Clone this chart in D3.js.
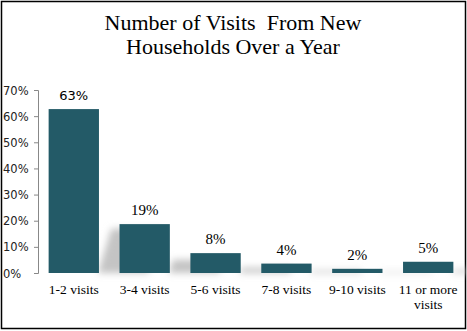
<!DOCTYPE html>
<html><head><meta charset="utf-8">
<script src="https://cdn.jsdelivr.net/npm/d3@7"></script>
<style>body{margin:0;background:#fff}svg{display:block}</style>
</head><body>
<script>
const categories = ["1-2 visits","3-4 visits","5-6 visits","7-8 visits","9-10 visits","11 or more visits"];
const values = [62.7, 18.7, 7.6, 3.6, 1.6, 4.3];
const labels = ["63%","19%","8%","4%","2%","5%"];
const yTicks = [0,10,20,30,40,50,60,70];
const title = ["Number of Visits  From New","Households Over a Year"];

const W=467,H=331;
const svg=d3.select("body").append("svg").attr("width",W).attr("height",H);
const defs=svg.append("defs");
defs.append("filter").attr("id","blur").attr("x","-50%").attr("y","-50%").attr("width","200%").attr("height","200%")
  .append("feGaussianBlur").attr("stdDeviation",3.5);

svg.append("rect").attr("x",1.5).attr("y",1.5).attr("width",464).attr("height",327)
  .attr("fill","#fff").attr("stroke","#000").attr("stroke-width",1.5);

svg.append("text").attr("text-anchor","middle").attr("font-family","Liberation Serif, DejaVu Serif, serif")
  .attr("font-size",22).attr("fill","#000").style("white-space","pre")
  .selectAll("tspan").data(title).join("tspan").attr("x",233).attr("y",(d,i)=>30+i*24).text(d=>d);

const x=d3.scaleBand().domain(categories).range([38,464]).paddingInner(0.29).paddingOuter(0.15);
const y=d3.scaleLinear().domain([0,70]).range([273,90]);

// perspective shadows
const sh=svg.append("g").attr("filter","url(#blur)");
sh.selectAll("path").data(values).join("path")
  .attr("d",(d,i)=>{
    const x0=x(categories[i])+x.bandwidth()-1, bw=x.bandwidth(), b=y(0), h=(b-y(d))*0.27, dx=h*0.3;
    return `M${x0},${b} L${x0+dx},${b-h} L${x0+dx+bw},${b-h} L${x0+bw},${b} Z`;
  }).attr("fill","#c4c4c4");

// axis
const ax=svg.append("g").attr("transform","translate(38,0)")
  .call(d3.axisLeft(y).tickValues(yTicks).tickSize(4).tickFormat(d=>d+"%"));
ax.select(".domain").attr("stroke","#888");
ax.selectAll(".tick line").attr("stroke","#888");
ax.selectAll(".tick text").attr("font-family","DejaVu Sans, Verdana, sans-serif").attr("font-size",11.5)
  .attr("fill","#222").attr("x",-35).attr("text-anchor","start").attr("dy","0.35em");

svg.append("g").selectAll("rect").data(values).join("rect")
  .attr("x",(d,i)=>x(categories[i])).attr("width",x.bandwidth())
  .attr("y",d=>y(d)).attr("height",d=>y(0)-y(d)).attr("fill","#235a67");

svg.append("g").selectAll("text").data(values).join("text")
  .attr("x",(d,i)=>x(categories[i])+x.bandwidth()/2).attr("y",d=>y(d)-9)
  .attr("text-anchor","middle")
  .attr("font-family",(d,i)=>i===0?"DejaVu Sans, Verdana, sans-serif":"Liberation Serif, DejaVu Serif, serif")
  .attr("font-size",(d,i)=>i===0?13:15).attr("fill","#000")
  .text((d,i)=>labels[i]);

const catLines = c => c==="11 or more visits" ? ["11 or more","visits"] : [c];
svg.append("g").selectAll("text").data(categories).join("text")
  .attr("text-anchor","middle").attr("font-family","Liberation Serif, DejaVu Serif, serif")
  .attr("font-size",13.5).attr("fill","#000")
  .each(function(c){
    d3.select(this).selectAll("tspan").data(catLines(c)).join("tspan")
      .attr("x",x(c)+x.bandwidth()/2).attr("y",(d,i)=>294+i*15).text(d=>d);
  });
</script>
</body></html>
